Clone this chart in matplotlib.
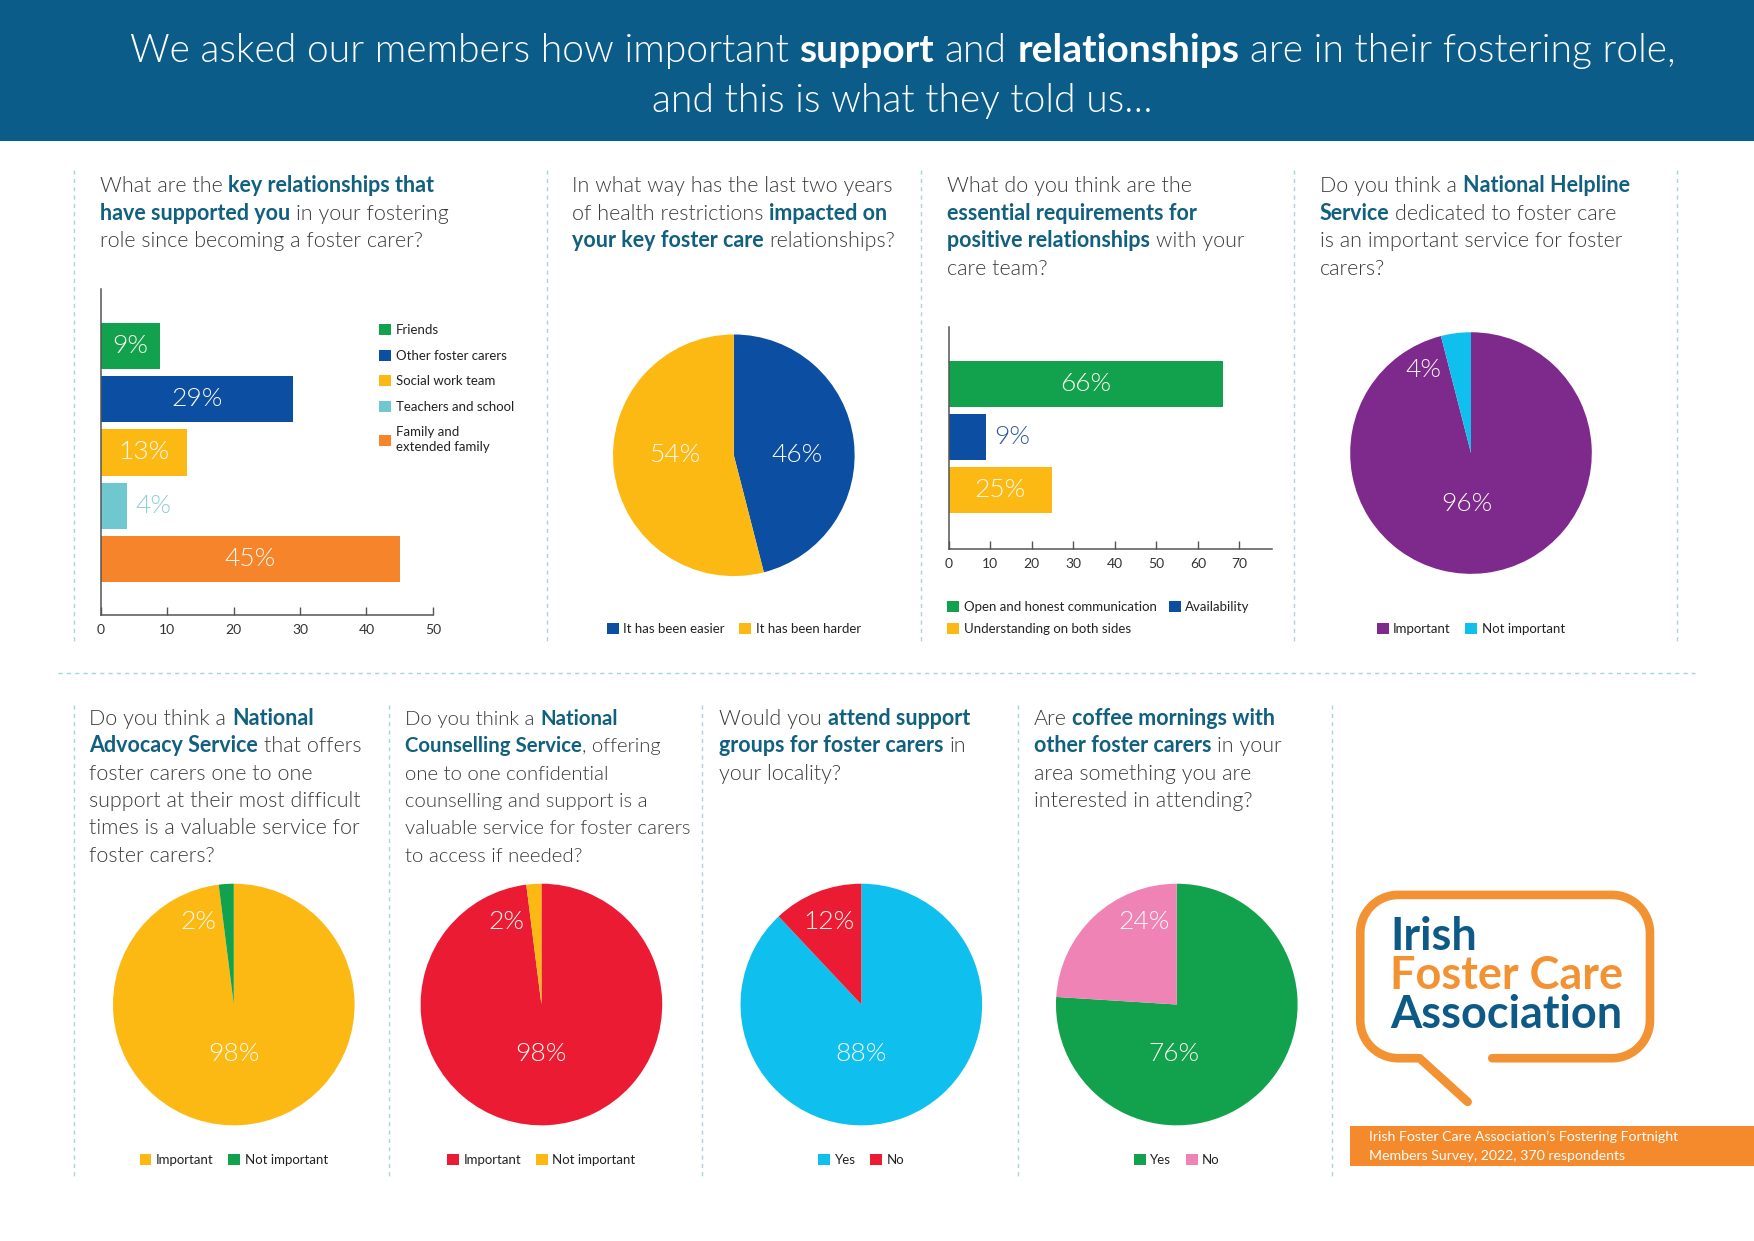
import matplotlib.pyplot as plt
import matplotlib.patches as mpatches
import numpy as np

# ---- survey values ----
rel_labels = ["Friends", "Other foster carers", "Social work team",
              "Teachers and school", "Family and\nextended family"]
rel_values = [9, 29, 13, 4, 45]
rel_ticks = [0, 10, 20, 30, 40, 50]

impact_labels = ["It has been easier", "It has been harder"]
impact_values = [46, 54]

req_labels = ["Open and honest communication", "Availability",
              "Understanding on both sides"]
req_values = [66, 9, 25]
req_ticks = [0, 10, 20, 30, 40, 50, 60, 70]

helpline_labels = ["Important", "Not important"]
helpline_values = [96, 4]

advocacy_labels = ["Important", "Not important"]
advocacy_values = [98, 2]

counselling_labels = ["Important", "Not important"]
counselling_values = [98, 2]

groups_labels = ["Yes", "No"]
groups_values = [88, 12]

coffee_labels = ["Yes", "No"]
coffee_values = [76, 24]

# ---- colours ----
HEAD = "#0B5C89"
Q_REG = "#3a3a3a"
Q_BOLD = "#11607f"
DIV = "#a6d5da"
GREEN = "#12a24e"
BLUE = "#0c4ea2"
YELLOW = "#fdb913"
TEAL = "#6fc7d0"
ORANGE = "#f5842a"
PURPLE = "#7d2a8c"
CYAN = "#0fc0ef"
RED = "#ec1b34"
PINK = "#ef83b6"
LOGO_OR = "#f39233"
LOGO_BL = "#0e5a86"
PALE = "#fbfbf2"

BODY = "Lato"
LIGHT = 300

# layout is measured on a 1568 wide copy of the page, scaled up to 1754
K = 1754 / 1568
W, H = 1568, 1241 / K

fig = plt.figure(figsize=(17.54, 12.41), dpi=100)
ax0 = fig.add_axes([0, 0, 1, 1])
ax0.set_xlim(0, W)
ax0.set_ylim(H, 0)
ax0.axis("off")
renderer = fig.canvas.get_renderer()


def rect(x0, y0, x1, y1):
    return [x0 / W, 1 - y1 / H, (x1 - x0) / W, (y1 - y0) / H]


def text_w(s, size, weight):
    t = ax0.text(0, 0, s, fontsize=size, fontweight=weight, family=BODY)
    w = t.get_window_extent(renderer).width / K
    t.remove()
    return w


def split_parts(line):
    parts = []
    for i, seg in enumerate(line.split("*")):
        seg = seg.strip()
        if seg:
            parts.append((seg, i % 2 == 1))
    return parts


def line_width(parts, size, weights):
    total = 0
    gap = text_w("n n", size, weights[0]) - text_w("nn", size, weights[0])
    for i, (txt, bold) in enumerate(parts):
        if i > 0 and not txt.startswith((",", ".", "?")):
            total += gap
        total += text_w(txt, size, weights[bold])
    return total


def rich_line(x, y, line, size, colors=(Q_REG, Q_BOLD), ha="left",
              fit=None, weights=(LIGHT, "bold")):
    parts = split_parts(line)
    if fit is not None:
        size = size * fit / line_width(parts, size, weights)
    if ha == "center":
        x = x - line_width(parts, size, weights) / 2
    gap = text_w("n n", size, weights[0]) - text_w("nn", size, weights[0])
    for i, (txt, bold) in enumerate(parts):
        if i > 0 and not txt.startswith((",", ".", "?")):
            x += gap
        t = ax0.text(x, y, txt, fontsize=size, fontweight=weights[bold],
                     color=colors[bold], family=BODY, va="baseline", ha="left")
        x += t.get_window_extent(renderer).width / K
    return size


QSIZE = 15.5


def question(x, y, lines, size=QSIZE, step=24.5):
    for i, line in enumerate(lines):
        rich_line(x, y + i * step, line, size)


def style_legend(leg):
    for t in leg.get_texts():
        t.set_family(BODY)
        t.set_color("#222222")


# ---- header band ----
ax0.add_patch(mpatches.Rectangle((0, 0), W, 126, color=HEAD, lw=0))
hsize = rich_line(807, 55, "We asked our members how important *support* and "
                  "*relationships* are in their fostering role,", 28,
                  colors=("white", "white"), ha="center", fit=1379)
rich_line(807, 100, "and this is what they told us\u2026", hsize,
          colors=("white", "white"), ha="center")

# ---- dashed dividers ----
for x in [66, 489, 823, 1157, 1499]:
    ax0.plot([x, x], [152, 576], color=DIV, lw=1, ls=(0, (3, 3)))
for x in [66, 348, 628, 910, 1191]:
    ax0.plot([x, x], [630, 1052], color=DIV, lw=1, ls=(0, (3, 3)))
ax0.plot([52, 1515], [602, 602], color=DIV, lw=1, ls=(0, (3, 3)))

# ---- questions ----
question(89, 172, ["What are the *key relationships that*",
                   "*have supported you* in your fostering",
                   "role since becoming a foster carer?"])
question(511, 172, ["In what way has the last two years",
                    "of health restrictions *impacted on*",
                    "*your key foster care* relationships?"])
question(847, 172, ["What do you think are the",
                    "*essential requirements for*",
                    "*positive relationships* with your",
                    "care team?"])
question(1180, 172, ["Do you think a *National Helpline*",
                     "*Service* dedicated to foster care",
                     "is an important service for foster",
                     "carers?"])
question(80, 648, ["Do you think a *National*",
                   "*Advocacy Service* that offers",
                   "foster carers one to one",
                   "support at their most difficult",
                   "times is a valuable service for",
                   "foster carers?"])
question(362, 648, ["Do you think a *National*",
                    "*Counselling Service*, offering",
                    "one to one confidential",
                    "counselling and support is a",
                    "valuable service for foster carers",
                    "to access if needed?"], size=14.7)
question(643, 648, ["Would you *attend support*",
                    "*groups for foster carers* in",
                    "your locality?"])
question(924, 648, ["Are *coffee mornings with*",
                    "*other foster carers* in your",
                    "area something you are",
                    "interested in attending?"])


# ---- horizontal bar charts ----
def bar_panel(box, values, colors, ticks, xmax, ylim, out_colors):
    ax = fig.add_axes(rect(*box))
    pos = np.arange(len(values))
    bars = ax.barh(pos, values, height=0.87, color=colors, lw=0)
    ax.set_xlim(0, xmax)
    ax.set_ylim(*ylim)
    px_per_unit = (box[2] - box[0]) / xmax
    for p, v, c in zip(pos, values, out_colors):
        if v * px_per_unit >= 45:
            ax.text(v / 2, p, f"{v}%", color=PALE, fontsize=19,
                    fontweight=LIGHT, family=BODY, ha="center", va="center")
        else:
            ax.text(v + 7 / px_per_unit, p, f"{v}%", color=c, fontsize=19,
                    fontweight=LIGHT, family=BODY, ha="left", va="center")
    for s in ["top", "right"]:
        ax.spines[s].set_visible(False)
    for s in ["left", "bottom"]:
        ax.spines[s].set_color("#555555")
        ax.spines[s].set_linewidth(1.1)
    ax.set_yticks([])
    ax.set_xticks(ticks)
    ax.tick_params(axis="x", direction="in", length=6, width=1,
                   color="#555555", labelsize=10, labelcolor="#333333", pad=6)
    for lab in ax.get_xticklabels():
        lab.set_family(BODY)
    ax.set_facecolor("none")
    return ax, bars


ax1, bars1 = bar_panel((90, 258, 387, 550), rel_values,
                       [GREEN, BLUE, YELLOW, TEAL, ORANGE], rel_ticks, 50,
                       (5.06, -1.08), [GREEN, BLUE, YELLOW, "#8ccfd6", ORANGE])
leg1 = ax1.legend(bars1, rel_labels, frameon=False, fontsize=9.5,
                  handlelength=0.9, handleheight=0.9, handletextpad=0.35,
                  borderpad=0, borderaxespad=0, labelspacing=1.02,
                  loc="upper left", bbox_to_anchor=(339, 290),
                  bbox_transform=ax0.transData)
style_legend(leg1)
leg1.get_texts()[-1].set_linespacing(1.25)

ax3, bars3 = bar_panel((848, 292, 1137, 491), req_values,
                       [GREEN, BLUE, YELLOW], req_ticks, 77.8, (3.12, -1.09),
                       [GREEN, "#2e5c99", YELLOW])
# legend reads row-wise in the original: put "Understanding" under "Open"
h = bars3.patches
leg3 = ax3.legend([h[0], h[2], h[1]], [req_labels[0], req_labels[2], req_labels[1]],
                  frameon=False, fontsize=9.5, handlelength=0.9, handleheight=0.9,
                  handletextpad=0.35, borderpad=0, borderaxespad=0, ncol=2,
                  labelspacing=0.75, columnspacing=0.9, loc="upper left",
                  bbox_to_anchor=(847, 537), bbox_transform=ax0.transData)
style_legend(leg3)


# ---- pies ----
def pie_panel(cx, cy, values, labels, colors, label_pos, legend_y, r=108):
    ax = fig.add_axes(rect(cx - r, cy - r, cx + r, cy + r))
    wedges, _ = ax.pie(values, colors=colors, startangle=90, counterclock=False,
                       wedgeprops=dict(linewidth=0))
    ax.set_xlim(-1, 1)
    ax.set_ylim(-1, 1)
    for v, (px, py) in zip(values, label_pos):
        ax.text(px, py, f"{v}%", color=PALE, fontsize=19, fontweight=LIGHT,
                family=BODY, ha="center", va="center")
    leg = ax.legend(wedges, labels, loc="center", bbox_to_anchor=(cx, legend_y),
                    bbox_transform=ax0.transData, ncol=2, frameon=False,
                    fontsize=9.5, handlelength=0.9, handleheight=0.9,
                    handletextpad=0.35, columnspacing=1.1, borderpad=0)
    style_legend(leg)


pie_panel(656, 407, impact_values, impact_labels, [BLUE, YELLOW],
          [(0.52, 0.0), (-0.49, 0.0)], 562)
pie_panel(1315, 405, helpline_values, helpline_labels, [PURPLE, CYAN],
          [(-0.03, -0.42), (-0.39, 0.69)], 562)
pie_panel(209, 898, advocacy_values, advocacy_labels, [YELLOW, GREEN],
          [(0.0, -0.41), (-0.29, 0.68)], 1037)
pie_panel(484, 898, counselling_values, counselling_labels, [RED, YELLOW],
          [(0.0, -0.41), (-0.29, 0.68)], 1037)
pie_panel(770, 898, groups_values, groups_labels, [CYAN, RED],
          [(0.0, -0.41), (-0.27, 0.68)], 1037)
pie_panel(1052, 898, coffee_values, coffee_labels, [GREEN, PINK],
          [(-0.02, -0.41), (-0.27, 0.68)], 1037)

# ---- logo ----
L, R, T, B, rad = 1216, 1475, 800, 946, 34


def arc(cx, cy, a0, a1):
    a = np.radians(np.linspace(a0, a1, 20))
    return list(zip(cx + rad * np.cos(a), cy + rad * np.sin(a)))


pts = [(1334, B), (R - rad, B)]
pts += arc(R - rad, B - rad, 90, 0)
pts += [(R, T + rad)]
pts += arc(R - rad, T + rad, 0, -90)
pts += [(L + rad, T)]
pts += arc(L + rad, T + rad, -90, -180)
pts += [(L, B - rad)]
pts += arc(L + rad, B - rad, 180, 90)
pts += [(1269, B), (1312, 985)]
xs, ys = zip(*pts)
ax0.plot(xs, ys, color=LOGO_OR, lw=6.2, solid_capstyle="round",
         solid_joinstyle="round")

lsize = rich_line(1243, 919, "*Association*", 30, colors=(LOGO_BL, LOGO_BL),
                  fit=207)
rich_line(1243, 849, "*Irish*", lsize, colors=(LOGO_BL, LOGO_BL))
rich_line(1243, 884, "*Foster Care*", lsize, colors=(LOGO_OR, LOGO_OR))

ax0.add_patch(mpatches.Rectangle((1207, 1007), W - 1207, 35, color="#f58a2c", lw=0))
fsize = rich_line(1224, 1020, "Irish Foster Care Association\u2019s Fostering Fortnight",
                  10, colors=("white", "white"), fit=277, weights=("normal", "bold"))
rich_line(1224, 1037, "Members Survey, 2022, 370 respondents", fsize,
          colors=("white", "white"), weights=("normal", "bold"))

fig.savefig("out.png", dpi=100)
